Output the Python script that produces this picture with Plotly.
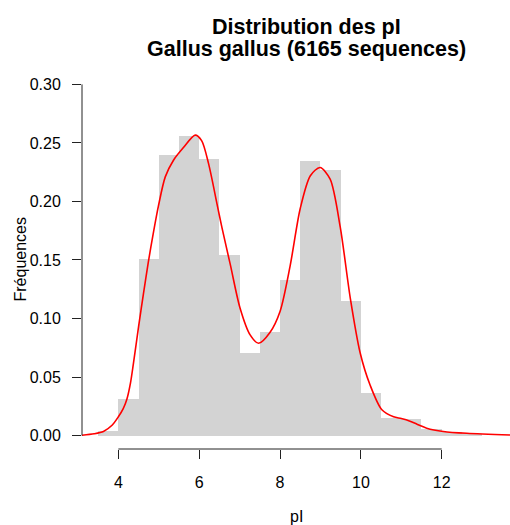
import plotly.graph_objects as go

# Histogram bins (left edges, width 0.5) and frequencies
bin_left = [3.5, 4.0, 4.5, 5.0, 5.5, 6.0, 6.5, 7.0, 7.5, 8.0, 8.5, 9.0, 9.5,
            10.0, 10.5, 11.0, 11.5, 12.0, 12.5]
bin_width = 0.5
freq = [0.0035, 0.031, 0.151, 0.2395, 0.256, 0.2366, 0.1546, 0.0703, 0.0885,
        0.1326, 0.2345, 0.2268, 0.1149, 0.0366, 0.0147, 0.0140, 0.0060, 0.0032,
        0.0010]

# Density curve
dens_x = [3.10, 3.4, 3.63, 3.85, 4.0, 4.12, 4.21, 4.30, 4.37, 4.5, 4.62, 4.74,
          4.87, 4.99, 5.16, 5.36, 5.61, 5.9, 6.06, 6.23, 6.44, 6.56, 6.77,
          7.01, 7.26, 7.47, 7.75, 8.0, 8.25, 8.5, 8.75, 8.99, 9.24, 9.49,
          9.74, 9.98, 10.23, 10.52, 10.81, 11.0, 11.2, 11.4, 11.63,
          12.04, 12.62, 13.69]
dens_y = [0.0003, 0.0015, 0.0035, 0.009, 0.016, 0.023, 0.031, 0.045, 0.061,
          0.093, 0.121, 0.148, 0.174, 0.196, 0.221, 0.235, 0.246, 0.2567,
          0.252, 0.2325, 0.198, 0.178, 0.146, 0.109, 0.086, 0.0788, 0.088,
          0.106, 0.145, 0.194, 0.222, 0.229, 0.219, 0.178, 0.117,
          0.071, 0.043, 0.022, 0.016, 0.0145, 0.0125, 0.0095, 0.0063, 0.0035,
          0.0019, 0.0004]

x_ticks = [4, 6, 8, 10, 12]
y_ticks = [0.00, 0.05, 0.10, 0.15, 0.20, 0.25, 0.30]
x_range = [3.10, 13.69]
y_range = [-0.0115, 0.3123]

title_lines = ["Distribution des pI", "Gallus gallus (6165 sequences)"]

FONT = "Liberation Sans, Arial, Helvetica, sans-serif"

fig = go.Figure()
fig.add_trace(go.Bar(
    x=[b + bin_width / 2 for b in bin_left], y=freq, width=bin_width,
    marker=dict(color="#D3D3D3", line=dict(width=0)), hoverinfo="skip",
))
fig.add_trace(go.Scatter(
    x=dens_x, y=dens_y, mode="lines",
    line=dict(color="#FF0000", width=1.6, shape="spline", smoothing=0.8),
    hoverinfo="skip",
))

annotations = [
    dict(text="pI", xref="paper", yref="paper", x=0.5, y=0,
         xanchor="center", yanchor="middle", yshift=-67, showarrow=False,
         font=dict(family=FONT, size=16, color="black")),
    dict(text="Fréquences", xref="paper", yref="paper", x=0, y=0.5,
         xanchor="center", yanchor="middle", xshift=-62, textangle=-90,
         showarrow=False, font=dict(family=FONT, size=16, color="black")),
]
for i, line in enumerate(title_lines):
    annotations.append(dict(
        text=f"<b>{line}</b>", xref="paper", yref="paper", x=0.5, y=1,
        xanchor="center", yanchor="middle", xshift=10, yshift=43 - 22 * i,
        showarrow=False, font=dict(family=FONT, size=21.5, color="black")))

fig.update_layout(
    width=510, height=525,
    margin=dict(l=82, r=0, t=70, b=76),
    paper_bgcolor="white", plot_bgcolor="white",
    showlegend=False, bargap=0,
    font=dict(family=FONT, size=16, color="black"),
    xaxis=dict(
        range=x_range, tickvals=x_ticks, ticktext=[str(v) for v in x_ticks],
        ticks="outside", ticklen=9, tickwidth=1, tickcolor="#222",
        showline=False, showgrid=False, zeroline=False,
        ticklabelstandoff=10,
    ),
    yaxis=dict(
        range=y_range, tickvals=y_ticks, ticktext=[f"{v:.2f}" for v in y_ticks],
        ticks="outside", ticklen=9, tickwidth=1, tickcolor="#222",
        showline=False, showgrid=False, zeroline=False,
        ticklabelstandoff=8,
    ),
    shapes=[
        dict(type="line", xref="x", yref="paper", x0=x_ticks[0], x1=x_ticks[-1],
             y0=0, y1=0, line=dict(color="#222", width=1)),
        dict(type="line", xref="paper", yref="y", x0=0, x1=0,
             y0=y_ticks[0], y1=y_ticks[-1], line=dict(color="#222", width=1)),
    ],
    annotations=annotations,
)

fig.write_html("out.html", config={"displayModeBar": False},
               post_script="document.body.style.margin='0';document.body.style.padding='0';")
